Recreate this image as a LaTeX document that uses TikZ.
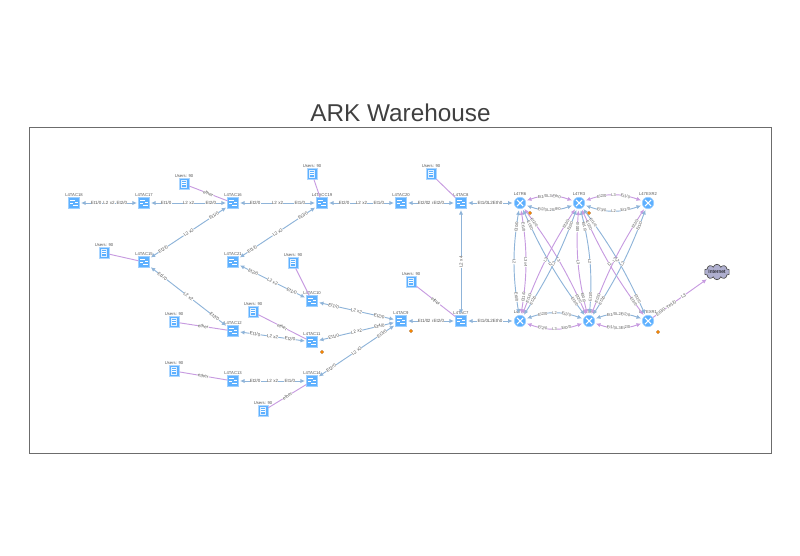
\documentclass[tikz,border=0pt]{standalone}
\usepackage{fontspec}
\usetikzlibrary{shapes.symbols,arrows.meta,calc}
\setmainfont{Liberation Sans}
\definecolor{lk}{HTML}{8FB4D9}
\definecolor{pl}{HTML}{C79BE0}
\definecolor{ic}{HTML}{5DB0FF}
\definecolor{tx}{HTML}{555555}
\tikzset{
  x=0.75pt,y=-0.75pt,
  sw/.style={draw=ic!60,fill=ic,minimum size=8pt,inner sep=0pt,line width=.5pt,
     label={[font=\fontsize{3.15}{4}\selectfont,text=tx,inner sep=0.3pt]90:#1},
     path picture={\draw[white,line width=.7pt]
       ([xshift=-2.8pt,yshift=1.8pt]path picture bounding box.center)--++(3.2pt,0)
       ([xshift=1pt,yshift=.6pt]path picture bounding box.center)--++(1.8pt,0)
       ([xshift=-2.8pt,yshift=-.6pt]path picture bounding box.center)--++(1.8pt,0)
       ([xshift=-.4pt,yshift=-1.8pt]path picture bounding box.center)--++(3.2pt,0);}},
  rt/.style={circle,draw=ic!60,fill=ic,minimum size=8.6pt,inner sep=0pt,line width=.5pt,
     label={[font=\fontsize{3.15}{4}\selectfont,text=tx,inner sep=0.6pt]90:#1},
     path picture={\draw[white,line width=.8pt]
       ([shift={(-2.3pt,-2.3pt)}]path picture bounding box.center)--([shift={(2.3pt,2.3pt)}]path picture bounding box.center)
       ([shift={(-2.3pt,2.3pt)}]path picture bounding box.center)--([shift={(2.3pt,-2.3pt)}]path picture bounding box.center);}},
  us/.style={draw=ic!50,fill=ic,minimum width=7.5pt,minimum height=7.8pt,inner sep=0pt,line width=.5pt,
     label={[font=\fontsize{3.15}{4}\selectfont,text=tx,inner sep=0.3pt]90:Users: 90},
     path picture={\draw[white!80!ic,line width=.45pt]
       ([shift={(-1.8pt,-2.6pt)}]path picture bounding box.center) rectangle ([shift={(1.8pt,2.6pt)}]path picture bounding box.center);
       \draw[white,line width=.45pt]
       ([shift={(-1.8pt,1pt)}]path picture bounding box.center)--++(3.6pt,0)
       ([shift={(-1.8pt,-.4pt)}]path picture bounding box.center)--++(3.6pt,0);}},
  dot/.style={circle,fill=orange!90!yellow,draw=orange!60!black,line width=.2pt,minimum size=2.6pt,inner sep=0pt},
  lb/.style={font=\fontsize{3.4}{4}\selectfont,text=tx,fill=white,inner sep=0.2pt,sloped},
  lbm/.style={font=\fontsize{3}{4}\selectfont,text=tx,fill=white,inner sep=0pt,sloped},
  bl/.style={draw=lk,line width=.7pt,{Latex[length=3.4pt,width=3.2pt]}-{Latex[length=3.4pt,width=3.2pt]},shorten >=1pt,shorten <=1pt},
  pp/.style={draw=pl,line width=.7pt,{Latex[length=3.4pt,width=3.2pt]}-{Latex[length=3.4pt,width=3.2pt]},shorten >=1pt,shorten <=1pt},
  ul/.style={draw=pl,line width=.7pt},
}
\newcommand{\LK}[5]{\draw[bl] let \p1=($(#1)-(#2)$),\n1={veclen(\x1,\y1)} in (#1) -- (#2) node[lb,pos={12.5/(\n1-8)}]{#3} node[lb,pos=.5]{#4} node[lb,pos={1-12.5/(\n1-8)}]{#5};}
\newcommand{\RL}[7]{\draw[#1] let \p1=($(#2)-(#7)$),\n1={veclen(\x1,\y1)} in (#2) to[bend left=#3] node[lbm,pos={12.5/(\n1-8)}]{#4} node[lbm,pos=.5]{#5} node[lbm,pos={1-12.5/(\n1-8)}]{#6} (#7);}
\begin{document}
\begin{tikzpicture}
\useasboundingbox (0,0) rectangle (800,556);
\draw[draw=gray!85!black,line width=.6pt] (29,127) rectangle (771,453);
\node[font=\fontsize{18.25}{20}\selectfont,text=black!75] (title) at (400.5,113) {ARK Warehouse};
% switches
\node[sw=L4TAC18] (a18) at (74,203) {};
\node[sw=L4TAC17] (a17) at (144,203) {};
\node[sw=L4TAC16] (a16) at (233,203) {};
\node[sw=L4TACC19] (a19) at (322,203) {};
\node[sw=L4TAC20] (a20) at (401,203) {};
\node[sw=L4TAC8] (a8) at (461,203) {};
\node[sw=L4TAC15] (a15) at (144,262) {};
\node[sw=L4TAC21] (a21) at (233,262) {};
\node[sw=L4TAC10] (a10) at (312,301) {};
\node[sw=L4TAC11] (a11) at (312,342) {};
\node[sw=L4TAC12] (a12) at (233,331) {};
\node[sw=L4TAC13] (a13) at (233,381) {};
\node[sw=L4TAC14] (a14) at (312,381) {};
\node[sw=L4TAC9] (a9) at (401,321) {};
\node[sw=L4TAC7] (a7) at (461,321) {};
% routers
\node[rt=L47R6] (r6) at (520,203) {};
\node[rt=L47R3] (r3) at (579,203) {};
\node[rt=L47EXR2] (x2) at (648,203) {};
\node[rt=L47R5] (r5) at (520,321) {};
\node[rt=L47R2] (r2) at (589,321) {};
\node[rt=L47EXR1] (x1) at (648,321) {};
% users
\node[us] (u1) at (184,184) {};
\node[us] (u2) at (104,253) {};
\node[us] (u3) at (312,174) {};
\node[us] (u4) at (431,174) {};
\node[us] (u5) at (293,263) {};
\node[us] (u6) at (411,282) {};
\node[us] (u7) at (253,312) {};
\node[us] (u8) at (174,322) {};
\node[us] (u9) at (174,371) {};
\node[us] (u10) at (263,411) {};
% cloud
\node[draw=black!70,fill=blue!25!gray!50,cloud,cloud puffs=10,aspect=2.4,minimum width=17pt,minimum height=9pt,inner sep=0pt,line width=.5pt,font=\fontsize{3.8}{4}\selectfont] (net) at (717,272) {Internet};
% dots
\node[dot] (d1) at (322,352) {};
\node[dot] (d2) at (411,331) {};
\node[dot] (d3) at (589,213) {};
\node[dot] (d4) at (530,213) {};
\node[dot] (d5) at (658,332) {};
% user links
\foreach \u/\s in {u1/a16,u6/a7,u7/a11,u8/a12,u9/a13,u10/a14}{
  \draw[ul] (\u) -- (\s) node[lb,midway]{ether};
}
\foreach \u/\s in {u2/a15,u3/a19,u4/a8,u5/a10}{
  \draw[ul] (\u) -- (\s);
}
\LK{a18}{a17}{Et1/0}{L2 x2}{Et2/0}
\LK{a17}{a16}{Et1/0}{L2 x2}{Et2/0}
\LK{a16}{a19}{Et2/0}{L2 x2}{Et1/0}
\LK{a19}{a20}{Et2/0}{L2 x2}{Et1/0}
\LK{a20}{a8}{Et2/0}{2 x}{Et2/0}
\LK{a8}{r6}{Et1/0}{L2}{Eth0}
\LK{a15}{a16}{Et2/0}{L2 x2}{Et1/0}
\LK{a15}{a12}{Et1/0}{L2 x2}{Et2/0}
\LK{a21}{a19}{Et1/0}{L2 x2}{Et2/0}
\LK{a21}{a10}{Et2/0}{L2 x2}{Et1/0}
\LK{a10}{a9}{Et1/0}{L2 x2}{Et2/0}
\LK{a11}{a9}{Et1/0}{L2 x2}{Et4/0}
\LK{a14}{a9}{Et2/0}{L2 x2}{Et3/0}
\LK{a12}{a11}{Et1/0}{L2 x2}{Et2/0}
\LK{a13}{a14}{Et2/0}{L2 x2}{Et1/0}
\LK{a9}{a7}{Et1/0}{2 x}{Et2/0}
\LK{a7}{r5}{Et1/0}{L2}{Eth0}
\draw[bl] (a7) -- (a8) node[lb,pos=.5]{L2 x4};
% router mesh
\RL{pp}{r6}{20}{Et1/0}{L3}{Eth0}{r3}
\RL{bl}{r6}{-20}{Et2/0}{L2}{Eth0}{r3}
\RL{pp}{r3}{20}{Et2/0}{L3}{Et1/0}{x2}
\RL{bl}{r3}{-20}{Et3/0}{L2}{Et1/0}{x2}
\RL{bl}{r5}{20}{Et2/0}{L2}{Et2/0}{r2}
\RL{pp}{r5}{-20}{Et2/0}{L3}{Et0/0}{r2}
\RL{bl}{r2}{20}{Et1/0}{L2}{Et2/0}{x1}
\RL{pp}{r2}{-20}{Et1/0}{L3}{Et2/0}{x1}
\RL{bl}{r6}{-9}{Et0/0}{L2}{Et0/0}{r5}
\RL{pp}{r6}{9}{Et1/0}{L3 x4}{Et1/0}{r5}
\RL{pp}{r3}{-9}{Et0/0}{L3}{Et0/0}{r2}
\RL{bl}{r3}{9}{Et1/0}{L2}{Et1/0}{r2}
\RL{pp}{r6}{6}{Et2/0}{L3}{Et2/0}{r2}
\RL{bl}{r6}{-6}{Et3/0}{L2}{Et3/0}{r2}
\RL{pp}{r3}{-6}{Et3/0}{L3}{Et1/0}{r5}
\RL{bl}{r3}{6}{Et2/0}{L2}{Et2/0}{r5}
\RL{pp}{r3}{-6}{Et2/0}{L3}{Et3/0}{x1}
\RL{bl}{r3}{6}{Et1/0}{L2}{Et1/0}{x1}
\RL{pp}{x2}{-6}{Et2/0}{L3}{Et2/0}{r2}
\RL{bl}{x2}{6}{Et1/0}{L2}{Et3/0}{r2}
\draw[draw=pl,line width=.7pt,-{Latex[length=3.4pt,width=3.2pt]},shorten >=1.5pt] (x1) -- (net) node[lb,pos=.14]{Et0/0} node[lb,pos=.33]{Te1/0} node[lb,pos=.55]{L3};
\end{tikzpicture}
\end{document}
